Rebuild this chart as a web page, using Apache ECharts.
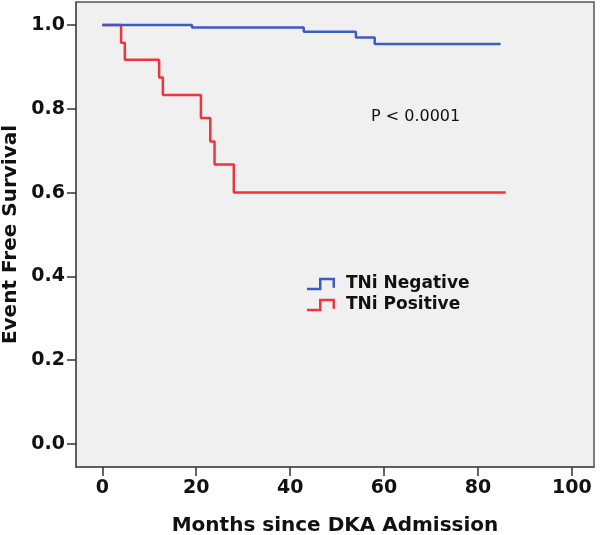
<!DOCTYPE html>
<html>
<head>
<meta charset="utf-8">
<script src="https://cdn.jsdelivr.net/npm/echarts@6/dist/echarts.min.js"></script>
<style>html,body{margin:0;padding:0;background:#fff}#c{width:600px;height:535px}</style>
</head>
<body>
<div id="c"></div>
<script>
// Kaplan-Meier step data: [months, survival]
const negMonths = [0, 19.1, 42.9, 54.0, 58.0, 84.8];
const negSurv   = [1.0, 0.994, 0.984, 0.970, 0.955, 0.955];
const posMonths = [0, 4.0, 4.8, 12.1, 12.9, 21.0, 23.0, 23.9, 28.0, 85.9];
const posSurv   = [1.0, 0.958, 0.917, 0.875, 0.833, 0.778, 0.722, 0.667, 0.600, 0.600];
const xTicks = [0, 20, 40, 60, 80, 100];
const yTicks = [0.0, 0.2, 0.4, 0.6, 0.8, 1.0];
const seriesNames = ['TNi Negative', 'TNi Positive'];
const pText = 'P < 0.0001';

const FONT = 'DejaVu Sans';
const chart = echarts.init(document.getElementById('c'), null, {renderer: 'canvas'});
const toPairs = (xs, ys) => xs.map((x, i) => [x, ys[i]]);
const stepIcon = 'path://M0,10 L12,10 L12,0 L28,0 L28,10 L25.5,10 L25.5,2.5 L14.5,2.5 L14.5,12.5 L0,12.5 Z';

chart.setOption({
  animation: false,
  backgroundColor: '#ffffff',
  grid: {
    left: 76, right: 6, top: 2, bottom: 68,
    containLabel: false, outerBoundsMode: 'none',
    show: true, backgroundColor: '#f0f0f0', borderColor: '#555', borderWidth: 1.5
  },
  title: {
    text: pText, left: 371, top: 109, padding: 0,
    textStyle: {fontFamily: FONT, fontSize: 16, fontWeight: 'normal', color: '#111'}
  },
  legend: {
    orient: 'vertical', left: 307, top: 275, itemGap: 3, padding: 0,
    itemWidth: 28, itemHeight: 12.5,
    data: [
      {name: seriesNames[0], icon: stepIcon},
      {name: seriesNames[1], icon: stepIcon}
    ],
    textStyle: {fontFamily: FONT, fontSize: 17, fontWeight: 'bold', color: '#111', lineHeight: 18,
      padding: [0, 0, 0, 6]}
  },
  xAxis: {
    type: 'value', min: -5.6, max: 104.7,
    name: 'Months since DKA Admission', nameLocation: 'middle', nameGap: 49,
    nameTextStyle: {fontFamily: FONT, fontSize: 20, fontWeight: 'bold', color: '#111'},
    axisLine: {show: true, onZero: false, lineStyle: {color: '#555', width: 1.5}},
    axisTick: {show: true, length: 9, customValues: xTicks, lineStyle: {color: '#333', width: 1.5}},
    axisLabel: {customValues: xTicks, margin: 12, fontFamily: FONT, fontSize: 19, fontWeight: 'bold', color: '#111'},
    splitLine: {show: false}
  },
  yAxis: {
    type: 'value', min: -0.055, max: 1.055,
    name: 'Event Free Survival', nameLocation: 'middle', nameGap: 55, nameRotate: 90,
    nameTextStyle: {fontFamily: FONT, fontSize: 20, fontWeight: 'bold', color: '#111'},
    axisLine: {show: true, onZero: false, lineStyle: {color: '#555', width: 1.5}},
    axisTick: {show: true, length: 9, customValues: yTicks, lineStyle: {color: '#333', width: 1.5}},
    axisLabel: {customValues: yTicks, margin: 11, fontFamily: FONT, fontSize: 19, fontWeight: 'bold', color: '#111',
      formatter: v => v.toFixed(1)},
    splitLine: {show: false}
  },
  series: [
    {
      name: seriesNames[0], type: 'line', step: 'end', showSymbol: false, symbol: 'none',
      data: toPairs(negMonths, negSurv),
      color: '#3d5cc0', lineStyle: {color: '#3d5cc0', width: 2.5}, z: 3
    },
    {
      name: seriesNames[1], type: 'line', step: 'end', showSymbol: false, symbol: 'none',
      data: toPairs(posMonths, posSurv),
      color: '#f0333c', lineStyle: {color: '#f0333c', width: 2.5}, z: 2
    }
  ]
});
</script>
</body>
</html>
